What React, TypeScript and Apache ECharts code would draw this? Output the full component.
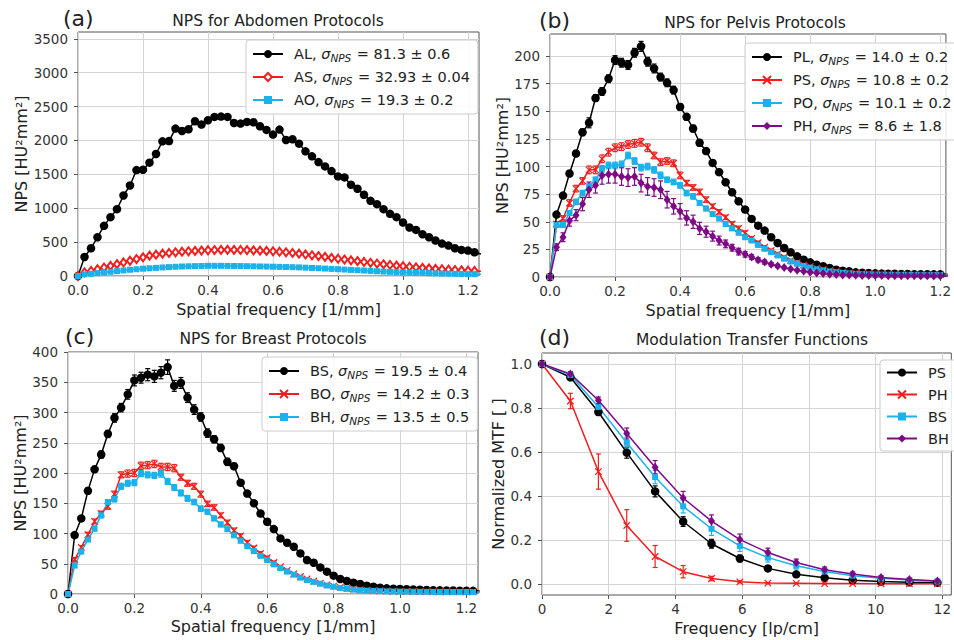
import React, { useEffect, useRef } from 'react';
import * as echarts from 'echarts';

// ---------------- DATA ----------------
const freqNPS = [0,0.02,0.04,0.06,0.08,0.10,0.12,0.14,0.16,0.18,
  0.20,0.22,0.24,0.26,0.28,0.30,0.32,0.34,0.36,0.38,
  0.40,0.42,0.44,0.46,0.48,0.50,0.52,0.54,0.56,0.58,
  0.60,0.62,0.64,0.66,0.68,0.70,0.72,0.74,0.76,0.78,
  0.80,0.82,0.84,0.86,0.88,0.90,0.92,0.94,0.96,0.98,
  1.00,1.02,1.04,1.06,1.08,1.10,1.12,1.14,1.16,1.18,
  1.20,1.22,1.24];

// (a) Abdomen
const npsAL = [0,281,409,572,740,868,986,1188,1336,1563, 1568,1672,1800,1987,1990,2175,2140,2165,2283,2234, 2298,2347,2352,2347,2258,2249,2273,2268,2209,2155, 2086,2160,2007,2017,1953,1839,1765,1681,1617,1548, 1469,1455,1346,1287,1198,1109,1060,986,917,868, 789,715,680,616,572,523,478,449,409,385, 375,350,325];
const errAL = [0,15,18,20,22,25,28,30,32,35, 35,35,38,40,40,40,38,36,35,35, 35,35,34,33,32,32,31,30,30,29, 28,28,27,26,25,24,23,22,21,20, 20,19,18,17,16,15,15,14,13,13, 12,12,11,11,10,10,9,9,9,8, 8,8,8];
const npsAS = [0,55,75,100,125,150,175,200,225,250, 275,300,315,330,340,350,358,365,370,375, 380,383,385,386,385,384,382,378,374,370, 365,358,350,340,330,318,306,294,282,268, 255,243,231,219,207,195,184,173,163,154, 145,136,128,120,113,106,100,94,88,83, 79,75,71];
const errAS = [0,6,7,8,9,10,11,12,12,13, 13,14,14,14,15,15,15,15,15,15, 15,15,15,15,15,15,15,15,15,14, 14,14,14,13,13,13,12,12,12,11, 11,11,10,10,10,9,9,9,8,8, 8,8,7,7,7,7,6,6,6,6, 6,6,6];
const npsAO = [0,25,32,42,52,62,72,82,92,100, 108,114,120,126,131,136,140,143,146,148, 150,150,150,149,148,147,145,143,141,139, 137,135,132,130,127,123,119,115,110,105, 100,95,90,85,80,75,70,65,61,57, 53,50,47,44,41,38,36,34,32,30, 28,27,26];
const errAO = [0,3,3,3,4,4,4,5,5,5, 5,5,5,6,6,6,6,6,6,6, 6,6,6,6,6,6,6,6,6,6, 6,6,5,5,5,5,5,5,5,4, 4,4,4,4,4,4,3,3,3,3, 3,3,3,3,3,3,2,2,2,2, 2,2,2];

// (b) Pelvis
const npsPL = [0,56.5,73.7,93.7,111.8,131,139.6,162,168,179.5, 196.4,194,192,203,208.8,194.9,188.8,181,175.8,169.2, 154,145,134.4,121.5,114,103.3,94.9,85.8,76.7,68.6, 61,52.6,46.5,42,36,30.8,26.3,22.4,18.7,15.7, 13.3,11.2,9.7,8.2,6.6,5.7,5.1,4.2,3.9,3.6, 3.3,3.1,3.0,2.9,2.8,2.7,2.6,2.5,2.5,2.4, 2.4,2.3,2.3];
const errPL = [0,2,2,2.5,2.5,3,4.5,3,3.5,3.5, 4,4,4,4,4.5,4,4,3.5,3.5,3.5, 3,3,3,3,2.5,2.5,2.5,2,2,2, 2,1.5,1.5,1.5,1.5,1.2,1.2,1,1,1, 0.8,0.8,0.7,0.7,0.6,0.6,0.5,0.5,0.5,0.4, 0.4,0.4,0.4,0.3,0.3,0.3,0.3,0.3,0.3,0.3, 0.3,0.3,0.3];
const npsPS = [0,48,53,67,80,87,97,97,107,113, 117,118,120,121,122,117,110,104,105,103, 92,85,81,77,70,64,59,54,48,44, 40,35,31,27,24,21,18,15,13,11, 9.5,8,6.8,5.8,5,4.3,3.8,3.4,3.1,2.9, 2.7,2.6,2.5,2.4,2.4,2.3,2.3,2.2,2.2,2.2, 2.1,2.1,2.1];
const errPS = [0,2,2.5,3,3,3,3.5,3.5,3.5,3.5, 3.5,3.5,3.5,3.5,3.5,3.5,3,3,3,3, 3,2.5,2.5,2.5,2.5,2,2,2,2,2, 1.8,1.6,1.5,1.4,1.3,1.2,1.1,1,0.9,0.8, 0.7,0.6,0.6,0.5,0.5,0.4,0.4,0.4,0.3,0.3, 0.3,0.3,0.3,0.3,0.3,0.3,0.3,0.3,0.3,0.3, 0.3,0.3,0.3];
const npsPO = [0,47,47,58,68,76,82,88,98,101, 101,102,110,105,99,100,97,92,88,86, 83,76,73,67,62,57,53,48,44,40, 36,33,29,25.5,22.5,19.5,16.5,14,12,10, 8.5,7,6,5,4.3,3.7,3.2,2.8,2.5,2.3, 2.1,2.0,1.9,1.9,1.8,1.8,1.8,1.7,1.7,1.7, 1.7,1.6,1.6];
const errPO = [0,2,2,2,2.5,2.5,2.5,2.5,3,3, 3,3,3,3,3,3,3,3,2.5,2.5, 2.5,2.5,2.5,2,2,2,2,2,1.8,1.6, 1.5,1.4,1.3,1.2,1.1,1,0.9,0.8,0.7,0.6, 0.6,0.5,0.5,0.4,0.4,0.4,0.3,0.3,0.3,0.3, 0.3,0.3,0.3,0.3,0.3,0.3,0.3,0.3,0.3,0.3, 0.3,0.3,0.3];
const npsPH = [0,27,36,51,56,66,79,83,92,93, 93,91,90,91,85,82,81,79,70,64, 59.5,53.5,50,44,41,37,33,30,26.5,23, 20.5,18,15.5,13.5,11.5,10,8.5,7.2,6.2,5.2, 4.4,3.7,3.1,2.6,2.2,1.9,1.7,1.5,1.4,1.3, 1.3,1.3,1.2,1.2,1.2,1.1,1.1,1.1,1.1,1.0, 1.0,1.0,1.0];
const errPH = [0,3,4,5,5,6,7,7,8,8, 8,8,8,8,8,8,8,8,7.5,7, 7,6.5,6,5.5,5,4.5,4,3.5,3,3, 2.5,2.2,2,1.8,1.6,1.4,1.2,1,0.9,0.8, 0.7,0.6,0.5,0.5,0.4,0.4,0.3,0.3,0.3,0.3, 0.3,0.3,0.3,0.3,0.3,0.3,0.3,0.3,0.3,0.3, 0.3,0.3,0.3];

// (c) Breast
const npsBS = [0,97.4,124.9,170.5,206,230.5,264.6,291,308,330, 353,357.5,362.5,359.7,365.8,375,344,348.8,324.6,304.8, 292.6,266,255.8,241.5,218.4,211.2,184,166,150,133, 119.4,107.3,91.9,84.7,78.1,67.1,56,51.7,44,36.9, 30.3,24.8,21.5,18.7,16.5,13.8,12.1,10.5,9.4,8.8, 8.3,7.8,7.4,7,6.7,6.4,6.1,5.9,5.7,5.5, 5.3,5.2,5.1];
const errBS = [0,4,4,5,5,6,6,7,7,8, 9,9,10,10,10,12,9,9,8,8, 7,7,6,6,6,5,5,5,4,4, 4,3.5,3,3,2.5,2.5,2,2,2,1.5, 1.5,1.2,1.2,1,1,0.9,0.8,0.7,0.6,0.6, 0.5,0.5,0.5,0.5,0.5,0.5,0.5,0.5,0.5,0.5, 0.5,0.5,0.5];
const npsBO = [0,57,77,98,120,133,145,165,197,199, 200,212,213,215,210,210,208,193,183,178, 165,149,143,130,118,105,96,85,76,67, 60,52,45,39,33,29,25,21,18,15, 13,11,9.5,8.2,7.2,6.4,5.8,5.3,4.9,4.6, 4.4,4.2,4.1,4.0,3.9,3.8,3.7,3.7,3.6,3.6, 3.5,3.5,3.5];
const errBO = [0,3,3,4,4,4,5,5,5,6, 6,6,6,6,6,6,6,5,5,5, 5,4.5,4.5,4,4,4,3.5,3.5,3,3, 2.5,2.5,2,2,1.8,1.6,1.4,1.2,1,0.9, 0.8,0.7,0.6,0.5,0.5,0.4,0.4,0.4,0.3,0.3, 0.3,0.3,0.3,0.3,0.3,0.3,0.3,0.3,0.3,0.3, 0.3,0.3,0.3];
const npsBH = [0,47,70,90,108,130,152,157,178,183, 184,199,197,196,199,186,176,167,158,152, 141,136,125,115,107,97,88,79,71,63, 56,49,43,37,32,27,23,20,17,14, 12,10,8.5,7.2,6.2,5.5,5.0,4.6,4.3,4.1, 3.9,3.8,3.7,3.6,3.5,3.5,3.4,3.4,3.3,3.3, 3.3,3.2,3.2];
const errBH = [0,3,3,3,4,4,4,5,5,5, 5,5,5,5,6,5,5,5,5,4.5, 4.5,4,4,4,3.5,3.5,3,3,3,2.5, 2.5,2,2,1.8,1.6,1.4,1.2,1,0.9,0.8, 0.7,0.6,0.5,0.5,0.4,0.4,0.4,0.3,0.3,0.3, 0.3,0.3,0.3,0.3,0.3,0.3,0.3,0.3,0.3,0.3, 0.3,0.3,0.3];

// (d) MTF
const freqMTF = [0,0.85,1.69,2.54,3.39,4.23,5.08,5.93,6.77,7.62,8.47,9.31,10.16,11.01,11.85];
const mtfPS = [1.0,0.94,0.782,0.597,0.421,0.284,0.183,0.116,0.071,0.044,0.028,0.017,0.011,0.008,0.006];
const mtfPSerr = [0,0.015,0.015,0.025,0.025,0.022,0.02,0.015,0.01,0.008,0.006,0.005,0.004,0.003,0.002];
const mtfPH = [1.0,0.832,0.511,0.266,0.125,0.056,0.025,0.01,0.004,0.003,0.002,0.002,0.001,0.001,0.001];
const mtfPHerr = [0,0.035,0.08,0.072,0.05,0.028,0.01,0.005,0.003,0.002,0.002,0.002,0.001,0.001,0.001];
const mtfBS = [1.0,0.95,0.805,0.642,0.486,0.353,0.251,0.173,0.12,0.083,0.057,0.038,0.026,0.018,0.012];
const mtfBSerr = [0,0.01,0.015,0.025,0.03,0.03,0.03,0.025,0.02,0.015,0.01,0.008,0.006,0.005,0.004];
const mtfBH = [1.0,0.955,0.835,0.684,0.531,0.391,0.286,0.202,0.143,0.098,0.065,0.045,0.03,0.02,0.014];
const mtfBHerr = [0,0.01,0.015,0.025,0.03,0.03,0.028,0.025,0.02,0.015,0.012,0.01,0.008,0.006,0.005];

// tick labels
const ticksNPSx = [0, 0.2, 0.4, 0.6, 0.8, 1.0, 1.2];
const ticksA = [0, 500, 1000, 1500, 2000, 2500, 3000, 3500];
const ticksB = [0, 25, 50, 75, 100, 125, 150, 175, 200];
const ticksC = [0, 50, 100, 150, 200, 250, 300, 350, 400];
const ticksDx = [0, 2, 4, 6, 8, 10, 12];
const ticksDy = [0, 0.2, 0.4, 0.6, 0.8, 1.0];

// legend labels
const legendText: Record<string, string> = {
  AL: '{g|}{t|AL, }{s|σ}{sub|NPS}{t| = 81.3 ± 0.6}',
  AS: '{g|}{t|AS, }{s|σ}{sub|NPS}{t| = 32.93 ± 0.04}',
  AO: '{g|}{t|AO, }{s|σ}{sub|NPS}{t| = 19.3 ± 0.2}',
  PL: '{g|}{t|PL, }{s|σ}{sub|NPS}{t| = 14.0 ± 0.2}',
  PS: '{g|}{t|PS, }{s|σ}{sub|NPS}{t| = 10.8 ± 0.2}',
  PO: '{g|}{t|PO, }{s|σ}{sub|NPS}{t| = 10.1 ± 0.2}',
  PH: '{g|}{t|PH, }{s|σ}{sub|NPS}{t| = 8.6 ± 1.8}',
  BS: '{g|}{t|BS, }{s|σ}{sub|NPS}{t| = 19.5 ± 0.4}',
  BO: '{g|}{t|BO, }{s|σ}{sub|NPS}{t| = 14.2 ± 0.3}',
  BH: '{g|}{t|BH, }{s|σ}{sub|NPS}{t| = 13.5 ± 0.5}',
  'MTF PS': '{g|}{t|PS}',
  'MTF PH': '{g|}{t|PH}',
  'MTF BS': '{g|}{t|BS}',
  'MTF BH': '{g|}{t|BH}',
};

// ---------------- STYLE ----------------
const FONT = "'DejaVu Sans', Verdana, sans-serif";
const BLACK = '#000000';
const RED = '#f21d1d';
const CYAN = '#1ab2ea';
const PURPLE = '#7d0a84';
const XMARK = 'path://M0,0L10,10M10,0L0,10';

const markers: Record<string, any> = {
  circle: { symbol: 'circle', size: 8.5 },
  square: { symbol: 'rect', size: 6 },
  diamond: { symbol: 'diamond', size: [7, 9] },
  x: { symbol: XMARK, size: 6.5 },
  odiamond: { symbol: 'emptyDiamond', size: [6, 8] },
};

function lineSeries(name: string, gi: number, xs: number[], ys: number[], color: string, mk: string) {
  const m = markers[mk];
  const isStroke = mk === 'x' || mk === 'odiamond';
  return {
    type: 'line', name, xAxisIndex: gi, yAxisIndex: gi,
    data: xs.map((x, i) => [x, ys[i]]),
    symbol: m.symbol, symbolSize: m.size, showSymbol: true, showAllSymbol: true,
    color,
    lineStyle: { color, width: 1.5 },
    itemStyle: { color, borderColor: color, borderWidth: isStroke ? 1.2 : 0 },
    emphasis: { disabled: true },
    clip: true, silent: true,
  };
}

function errSeries(name: string, gi: number, xs: number[], ys: number[], es: number[], color: string) {
  return {
    type: 'custom', name: name + ' err', xAxisIndex: gi, yAxisIndex: gi,
    data: xs.map((x, i) => [x, ys[i], es[i]]),
    encode: { x: 0, y: 1 },
    clip: true, silent: true,
    renderItem: (params: any, api: any) => {
      const x = api.value(0), y = api.value(1), e = api.value(2);
      const lo = api.coord([x, y - e]);
      const hi = api.coord([x, y + e]);
      const cap = 2.5;
      const style = { stroke: color, lineWidth: 1.2, fill: 'none' };
      return {
        type: 'group', children: [
          { type: 'line', shape: { x1: lo[0], y1: lo[1], x2: hi[0], y2: hi[1] }, style },
          { type: 'line', shape: { x1: lo[0] - cap, y1: lo[1], x2: lo[0] + cap, y2: lo[1] }, style },
          { type: 'line', shape: { x1: hi[0] - cap, y1: hi[1], x2: hi[0] + cap, y2: hi[1] }, style },
        ],
      };
    },
  };
}

function both(name: string, gi: number, xs: number[], ys: number[], es: number[], color: string, mk: string) {
  return [lineSeries(name, gi, xs, ys, color, mk), errSeries(name, gi, xs, ys, es, color)];
}

const grids = [
  { left: 78, top: 32, width: 401, height: 244 },
  { left: 550, top: 34, width: 406, height: 243 },
  { left: 68, top: 352, width: 410, height: 242 },
  { left: 542, top: 353, width: 414, height: 242 },
];

const tickLabel = { color: '#333', fontSize: 13.5, fontFamily: FONT };
const nameStyle = { color: '#222', fontSize: 16, fontFamily: FONT };

function xAxis(gi: number, max: number, ticks: number[], name: string, gap: number, fmt: (v: number) => string) {
  return {
    type: 'value', gridIndex: gi, min: 0, max,
    name, nameLocation: 'middle', nameGap: gap, nameTextStyle: nameStyle,
    axisLine: { show: false, onZero: false },
    axisTick: { show: true, length: 4, inside: false, customValues: ticks, lineStyle: { color: '#555', width: 1 } },
    axisLabel: { ...tickLabel, margin: 7, customValues: ticks, formatter: (v: number) => fmt(v) },
    splitLine: { show: true, lineStyle: { color: '#d4d4d4', width: 1 } },
  };
}
function yAxis(gi: number, min: number, max: number, ticks: number[], name: string, gap: number, fmt: (v: number) => string) {
  return {
    type: 'value', gridIndex: gi, min, max,
    name, nameLocation: 'middle', nameGap: gap, nameTextStyle: nameStyle,
    axisLine: { show: false, onZero: false },
    axisTick: { show: true, length: 4, inside: false, customValues: ticks, lineStyle: { color: '#555', width: 1 } },
    axisLabel: { ...tickLabel, margin: 10, customValues: ticks, formatter: (v: number) => fmt(v) },
    splitLine: { show: true, lineStyle: { color: '#d4d4d4', width: 1 } },
  };
}

const f1 = (v: number) => v.toFixed(1);
const f0 = (v: number) => String(Math.round(v));

const richLegend = {
  g: { width: 6, lineHeight: 17 },
  t: { fontSize: 14.5, fontFamily: FONT, color: '#222', lineHeight: 17 },
  s: { fontSize: 14.5, fontFamily: FONT, fontStyle: 'italic', color: '#222', lineHeight: 17 },
  sub: { fontSize: 10.5, fontFamily: FONT, fontStyle: 'italic', color: '#222', padding: [7, 1, 0, 0], lineHeight: 17 },
};

function legend(names: string[], left: number, top: number, gap: number) {
  return {
    show: true, orient: 'vertical', left, top,
    data: names, selectedMode: false,
    itemWidth: 30, itemHeight: 10, itemGap: gap,
    padding: [5, 8, 5, 6],
    backgroundColor: 'rgba(255,255,255,0.85)', borderColor: '#cccccc', borderWidth: 1, borderRadius: 3,
    formatter: (name: string) => legendText[name] || name,
    textStyle: { fontFamily: FONT, fontSize: 14.5, color: '#222', rich: richLegend },
  };
}

function textEl(text: string, x: number, y: number, size: number, align = 'center') {
  return { type: 'text', x, y, silent: true, style: { text, fontSize: size, fontFamily: FONT, fill: '#222', align, verticalAlign: 'middle' } };
}

export default function App() {
  const ref = useRef<HTMLDivElement>(null);
  useEffect(() => {
    if (!ref.current) return;
    const chart = echarts.init(ref.current, undefined, { renderer: 'svg' });
    const option: any = {
      animation: false,
      backgroundColor: '#ffffff',
      grid: grids.map(g => ({ ...g, show: true, borderColor: '#555', borderWidth: 1, backgroundColor: 'transparent', containLabel: false })),
      xAxis: [
        xAxis(0, 401 / 325, ticksNPSx, 'Spatial frequency [1/mm]', 25, f1),
        xAxis(1, 406 / 333.5, ticksNPSx, 'Spatial frequency [1/mm]', 25, f1),
        xAxis(2, 410 / 332, ticksNPSx, 'Spatial frequency [1/mm]', 24, f1),
        xAxis(3, 414 / 33.75, ticksDx, 'Frequency [lp/cm]', 25, f0),
      ],
      yAxis: [
        yAxis(0, 0, 3600, ticksA, 'NPS [HU²mm²]', 47, f0),
        yAxis(1, 0, 220, ticksB, 'NPS [HU²mm²]', 39, f0),
        yAxis(2, 0, 400, ticksC, 'NPS [HU²mm²]', 38, f0),
        yAxis(3, -0.05, 1.05, ticksDy, 'Normalized MTF [ ]', 34, f1),
      ],
      legend: [
        legend(['AL', 'AS', 'AO'], 246, 40, 5),
        legend(['PL', 'PS', 'PO', 'PH'], 745, 43, 5),
        legend(['BS', 'BO', 'BH'], 262, 357, 5),
        legend(['MTF PS', 'MTF PH', 'MTF BS', 'MTF BH'], 880, 360, 7),
      ],
      graphic: [
        textEl('(a)', 63, 18, 22, 'left'),
        textEl('(b)', 539, 20, 22, 'left'),
        textEl('(c)', 65, 336, 22, 'left'),
        textEl('(d)', 539, 337, 22, 'left'),
        textEl('NPS for Abdomen Protocols', 278, 21, 15.5),
        textEl('NPS for Pelvis Protocols', 755, 23, 15.5),
        textEl('NPS for Breast Protocols', 273, 339, 15.5),
        textEl('Modulation Transfer Functions', 752, 340, 15.5),
      ],
      series: [
        ...both('AL', 0, freqNPS, npsAL, errAL, BLACK, 'circle'),
        ...both('AS', 0, freqNPS, npsAS, errAS, RED, 'odiamond'),
        ...both('AO', 0, freqNPS, npsAO, errAO, CYAN, 'square'),
        ...both('PL', 1, freqNPS, npsPL, errPL, BLACK, 'circle'),
        ...both('PS', 1, freqNPS, npsPS, errPS, RED, 'x'),
        ...both('PO', 1, freqNPS, npsPO, errPO, CYAN, 'square'),
        ...both('PH', 1, freqNPS, npsPH, errPH, PURPLE, 'diamond'),
        ...both('BS', 2, freqNPS, npsBS, errBS, BLACK, 'circle'),
        ...both('BO', 2, freqNPS, npsBO, errBO, RED, 'x'),
        ...both('BH', 2, freqNPS, npsBH, errBH, CYAN, 'square'),
        ...both('MTF PS', 3, freqMTF, mtfPS, mtfPSerr, BLACK, 'circle'),
        ...both('MTF PH', 3, freqMTF, mtfPH, mtfPHerr, RED, 'x'),
        ...both('MTF BS', 3, freqMTF, mtfBS, mtfBSerr, CYAN, 'square'),
        ...both('MTF BH', 3, freqMTF, mtfBH, mtfBHerr, PURPLE, 'diamond'),
      ],
    };
    chart.setOption(option);
    return () => chart.dispose();
  }, []);
  return <div ref={ref} style={{ position: 'fixed', left: 0, top: 0, width: 954, height: 640 }} />;
}
